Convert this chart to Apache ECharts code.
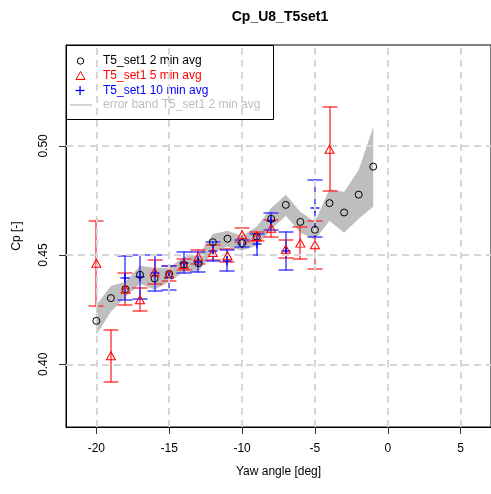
<!DOCTYPE html>
<html><head><meta charset="utf-8">
<script src="https://cdn.jsdelivr.net/npm/echarts@6/dist/echarts.min.js"></script>
<style>html,body{margin:0;padding:0;background:#fff}#c{width:491px;height:494px}</style>
</head><body><div id="c"></div>
<script>
// ---- data ----
const yaw2 = [-20,-19,-18,-17,-16,-15,-14,-13,-12,-11,-10,-9,-8,-7,-6,-5,-4,-3,-2,-1];
const avg2 = [0.4199,0.4303,0.4344,0.4410,0.4393,0.4414,0.4457,0.4463,0.4559,0.4575,0.4555,0.4585,0.4666,0.4730,0.4652,0.4616,0.4738,0.4695,0.4777,0.4905];
const bandUpper = [0.4270,0.4359,0.4378,0.4451,0.4442,0.4442,0.4492,0.4501,0.4597,0.4611,0.4588,0.4630,0.4716,0.4776,0.4698,0.4652,0.4803,0.4789,0.4890,0.5087];
const bandLower = [0.4135,0.4241,0.4309,0.4369,0.4341,0.4378,0.4424,0.4424,0.4515,0.4538,0.4520,0.4543,0.4616,0.4680,0.4602,0.4570,0.4657,0.4602,0.4666,0.4721];

const yaw5 = [-20,-19,-18,-17,-16,-15,-14,-13,-12,-11,-10,-9,-8,-7,-6,-5,-4];
const avg5 = [0.4463,0.4039,0.4344,0.4296,0.4422,0.4414,0.4457,0.4492,0.4512,0.4497,0.4593,0.4585,0.4623,0.4527,0.4555,0.4547,0.4985];
const sd5  = [0.0194,0.0118,0.0074,0.0054,0.0054,0.0034,0.0026,0.0032,0.0034,0.0029,0.0031,0.0022,0.0040,0.0042,0.0073,0.0111,0.0193];

const yaw10 = [-18,-17,-16,-15,-14,-13,-12,-11,-10,-9,-8,-7,-5];
const avg10 = [0.4396,0.4400,0.4419,0.4396,0.4466,0.4467,0.4518,0.4475,0.4553,0.4549,0.4655,0.4518,0.4715];
const sd10  = [0.0101,0.0102,0.0082,0.0055,0.0046,0.0046,0.0044,0.0050,0.0014,0.0048,0.0040,0.0086,0.0130];

const xTicks = [-20,-15,-10,-5,0,5];
const yTicks = [0.40,0.45,0.50];

const titleText = 'Cp_U8_T5set1';
const xName = 'Yaw angle [deg]';
const yName = 'Cp [-]';
const legendNames = ['T5_set1 2 min avg','T5_set1 5 min avg','T5_set1 10 min avg','error band T5_set1 2 min avg'];

// ---- chart ----
const FONT = '"Liberation Sans", Arial, Helvetica, sans-serif';
const chart = echarts.init(document.getElementById('c'), null, {renderer:'canvas'});

function errBarSeries(xs, ms, ss, barColor, markColor, withPlus, z) {
  return {
    type:'custom', z:z, silent:true,
    data: xs.map((x,i)=>[x, ms[i], ss[i]]),
    renderItem: function(params, api) {
      const x = api.value(0), m = api.value(1), s = api.value(2);
      const t = api.coord([x, m + s]), b = api.coord([x, m - s]), c = api.coord([x, m]);
      const cx = Math.round(t[0]), ty = Math.round(t[1]), by = Math.round(b[1]), cy = Math.round(c[1]);
      const w = 7.5, lw = 1.3;
      const f = {fill: barColor, stroke: null, lineWidth: 0};
      const ch = [
        {type:'rect', shape:{x:cx - lw/2, y:ty - lw/2, width:lw, height:by - ty + lw}, style:Object.assign({}, f)},
        {type:'rect', shape:{x:cx - w, y:ty - lw/2, width:2*w, height:lw}, style:Object.assign({}, f)},
        {type:'rect', shape:{x:cx - w, y:by - lw/2, width:2*w, height:lw}, style:Object.assign({}, f)}
      ];
      if (withPlus) {
        const g = {fill: markColor, stroke: null, lineWidth: 0};
        ch.push({type:'rect', shape:{x:cx - 4.5, y:cy - lw/2, width:9, height:lw}, style:Object.assign({}, g)});
        ch.push({type:'rect', shape:{x:cx - lw/2, y:cy - 4.5, width:lw, height:9}, style:Object.assign({}, g)});
      }
      return {type:'group', children: ch};
    }
  };
}

const gridMarks = xTicks.map(v=>({xAxis:v})).concat(yTicks.map(v=>({yAxis:v})));

const option = {
  animation:false,
  backgroundColor:'#fff',
  grid:{left:66, top:45, width:428, height:382, show:true, borderColor:'#000', borderWidth:1, backgroundColor:'transparent'},
  xAxis:{
    type:'value', min:-22.08, max:7.08,
    name:xName, nameLocation:'middle', nameGap:39,
    nameTextStyle:{fontFamily:FONT, fontSize:12, color:'#000'},
    axisLine:{show:true, onZero:false, lineStyle:{color:'#000', width:1}},
    axisTick:{show:true, customValues:xTicks, length:7, inside:false, lineStyle:{color:'#333'}},
    axisLabel:{show:true, customValues:xTicks, margin:16, fontFamily:FONT, fontSize:12, color:'#000', formatter:v=>String(v)},
    splitLine:{show:false}
  },
  yAxis:{
    type:'value', min:0.3713, max:0.5462,
    name:yName, nameLocation:'middle', nameGap:43, nameRotate:90,
    nameTextStyle:{fontFamily:FONT, fontSize:12, color:'#000'},
    axisLine:{show:true, onZero:false, lineStyle:{color:'#000', width:1}},
    axisTick:{show:true, customValues:yTicks, length:7, inside:false, lineStyle:{color:'#333'}},
    axisLabel:{show:true, customValues:yTicks, rotate:90, margin:16, fontFamily:FONT, fontSize:12, color:'#000', formatter:v=>v.toFixed(2)},
    splitLine:{show:false}
  },
  series:[
    {
      type:'scatter', data:[], z:0, silent:true,
      markLine:{silent:true, symbol:'none', animation:false, label:{show:false},
        lineStyle:{type:[7,5], color:'#d6d6d6', width:2}, data:gridMarks}
    },
    {
      type:'custom', z:1, silent:true, data:[[0]],
      renderItem:function(params, api){
        const pts = [];
        for (let i=0;i<yaw2.length;i++) pts.push(api.coord([yaw2[i], bandUpper[i]]));
        for (let i=yaw2.length-1;i>=0;i--) pts.push(api.coord([yaw2[i], bandLower[i]]));
        return {type:'polygon', shape:{points:pts}, style:{fill:'#bebebe', stroke:null}};
      }
    },
    errBarSeries(yaw5, avg5, sd5, '#ff2a2a', '#ff0000', false, 3),
    errBarSeries(yaw10, avg10, sd10, '#2a2aff', '#0000ff', true, 4),
    {
      type:'scatter', z:5, silent:true, symbol:'circle', symbolSize:7,
      data: yaw2.map((x,i)=>[x, avg2[i]]),
      itemStyle:{color:'rgba(0,0,0,0)', borderColor:'#000', borderWidth:1, opacity:1}
    },
    {
      type:'scatter', z:6, silent:true, symbol:'triangle', symbolSize:[9,8],
      data: yaw5.map((x,i)=>[x, avg5[i]]),
      itemStyle:{color:'rgba(0,0,0,0)', borderColor:'#ff0000', borderWidth:1, opacity:1}
    }
  ],
  graphic:[
    {type:'group', z:100, children:[
      {type:'rect', shape:{x:66.5, y:45.5, width:207, height:74}, style:{fill:'#fff', stroke:'#000', lineWidth:1}},
      {type:'circle', shape:{cx:80.5, cy:61, r:3.2}, style:{fill:null, stroke:'#000', lineWidth:1}},
      {type:'polygon', shape:{points:[[80.5,71.5],[85,79.5],[76,79.5]]}, style:{fill:null, stroke:'#ff0000', lineWidth:1}},
      {type:'rect', shape:{x:75.5, y:89.8, width:9, height:1.3}, style:{fill:'#0000ff', stroke:null}},
      {type:'rect', shape:{x:79.4, y:86, width:1.3, height:9}, style:{fill:'#0000ff', stroke:null}},
      {type:'rect', shape:{x:70, y:104.3, width:22, height:1.3}, style:{fill:'#bebebe', stroke:null}},
      {type:'text', x:103, y:61, style:{text:legendNames[0], fill:'#000', font:'12px '+FONT, textVerticalAlign:'middle'}},
      {type:'text', x:103, y:75.5, style:{text:legendNames[1], fill:'#ff0000', font:'12px '+FONT, textVerticalAlign:'middle'}},
      {type:'text', x:103, y:90.5, style:{text:legendNames[2], fill:'#0000ff', font:'12px '+FONT, textVerticalAlign:'middle'}},
      {type:'text', x:103, y:105, style:{text:legendNames[3], fill:'#bebebe', font:'12px '+FONT, textVerticalAlign:'middle'}}
    ]},
    {type:'text', z:100, x:280, y:17, style:{text:titleText, fill:'#000', font:'bold 14px '+FONT, textAlign:'center', textVerticalAlign:'middle'}}
  ]
};
chart.setOption(option);
</script>
</body></html>
